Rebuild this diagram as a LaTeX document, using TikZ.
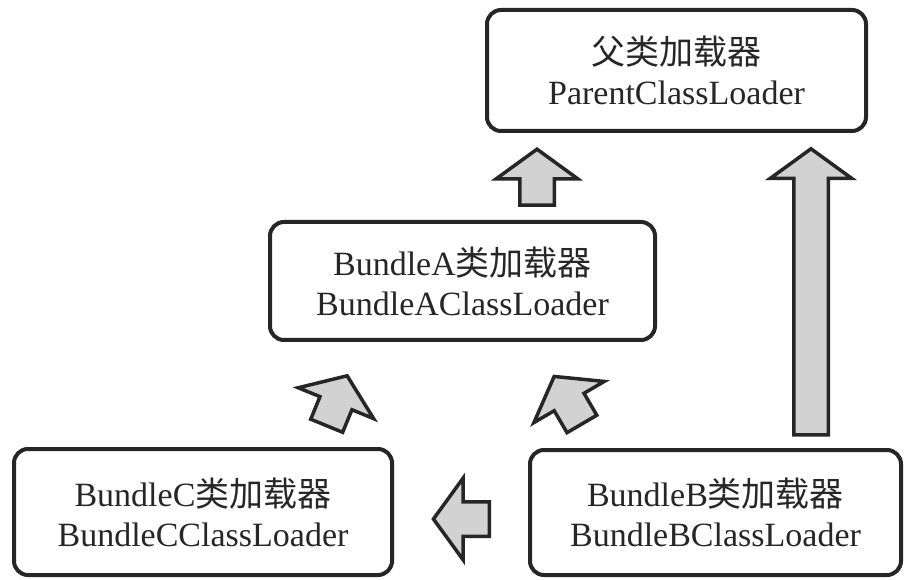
\documentclass[tikz,border=0pt]{standalone}
\usepackage{fontspec}
\setmainfont{Liberation Serif}
\newfontfamily\cjk{Noto Sans CJK SC}
\usetikzlibrary{shapes.arrows}
\definecolor{clInk}{HTML}{262626}
\definecolor{clGray}{HTML}{D2D2D2}
\tikzset{
  cl box/.style={draw=clInk, rounded corners=14pt, line width=4pt, align=center, inner sep=0pt, text=clInk, font=\fontsize{34}{40}\selectfont},
  cl arrow/.style={single arrow, draw=clInk, fill=clGray, line width=3.5pt, inner xsep=0pt, inner ysep=15.5pt, minimum width=78pt, single arrow head extend=23.5pt, single arrow tip angle=108, sloped, allow upside down},
}
\begin{document}
\begin{tikzpicture}[x=1pt,y=-1pt]
  \useasboundingbox (0,0) rectangle (906,580);
  % loaders
  \node[cl box, minimum width=379pt, minimum height=121pt] (p) at (676.5,70.5) {{\cjk 父类加载器}\\ParentClassLoader};
  \node[cl box, minimum width=385pt, minimum height=118pt] (a) at (462.5,281) {BundleA{\cjk 类加载器}\\BundleAClassLoader};
  \node[cl box, minimum width=378pt, minimum height=126pt] (c) at (203,512) {BundleC{\cjk 类加载器}\\BundleCClassLoader};
  \node[cl box, minimum width=371pt, minimum height=125pt] (b) at (715.5,512.5) {BundleB{\cjk 类加载器}\\BundleBClassLoader};
  % delegation
  \path (a.north -| 537,0) -- node[cl arrow, pos=.42, minimum height=56pt] (ap) {} (p.south -| 537,0);
  \path (b.north -| 811,0) -- node[cl arrow, pos=.476, minimum height=286pt] (bp) {} (p.south -| 811,0);
  \path (b.west |- 0,519) -- node[cl arrow, pos=.45, minimum height=56pt] (bc) {} (c.east |- 0,519);
  \path (c.north -| 318,0) -- node[cl arrow, pos=.385, minimum height=54pt] (ca) {} (a.south -| 361,0);
  \path (b.north -| 596,0) -- node[cl arrow, pos=.40, minimum height=55pt] (ba) {} (a.south -| 534,0);
\end{tikzpicture}
\end{document}
